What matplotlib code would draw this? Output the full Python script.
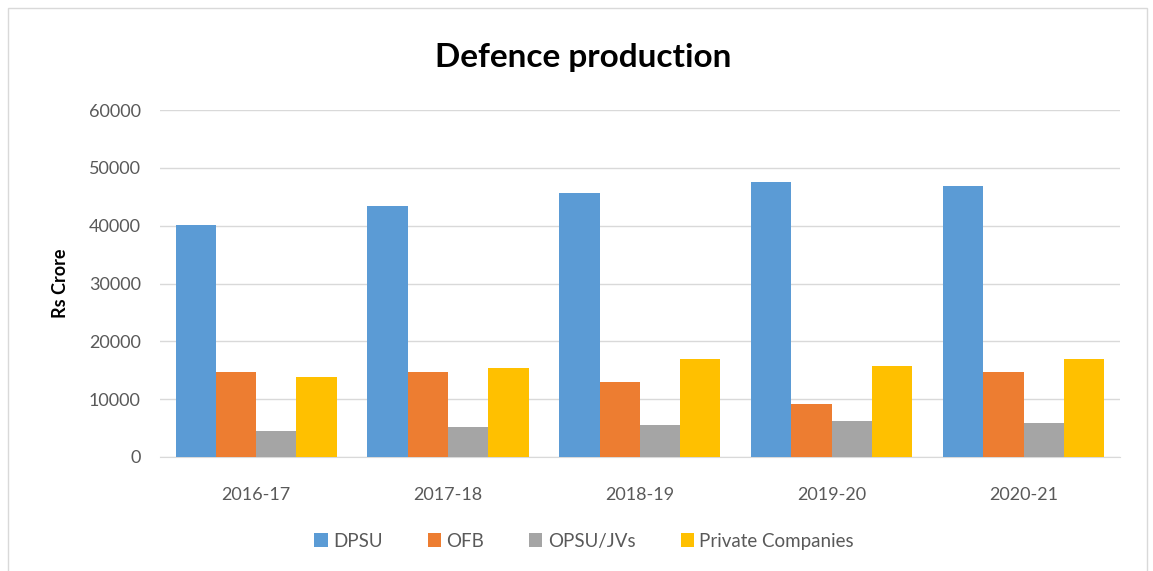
import numpy as np
import matplotlib.pyplot as plt
from matplotlib.patches import Rectangle

years = ["2016-17", "2017-18", "2018-19", "2019-20", "2020-21"]
dpsu = [40100, 43400, 45600, 47650, 46900]
ofb = [14650, 14650, 12900, 9100, 14650]
opsu_jvs = [4450, 5150, 5450, 6150, 5850]
private = [13900, 15400, 17000, 15650, 17000]

series = [
    ("DPSU", dpsu, "#5B9BD5"),
    ("OFB", ofb, "#ED7D31"),
    ("OPSU/JVs", opsu_jvs, "#A5A5A5"),
    ("Private Companies", private, "#FFC000"),
]

plt.rcParams["font.family"] = ["Lato", "DejaVu Sans"]

fig = plt.figure(figsize=(11.53, 5.71), dpi=100)
ax = fig.add_axes([0.139, 0.200, 0.832, 0.607])

x = np.arange(len(years))
width = 0.21
for i, (name, vals, color) in enumerate(series):
    ax.bar(x + (i - 1.5) * width, vals, width, color=color, label=name, zorder=3)

ax.set_xlim(-0.5, len(years) - 0.5)
ax.set_ylim(0, 60000)
ax.set_yticks(np.arange(0, 60001, 10000))
ax.set_xticks(x)
ax.set_xticklabels(years)
ax.yaxis.grid(True, color="#D9D9D9", linewidth=1, zorder=0)
ax.tick_params(axis="both", length=0, labelsize=13, labelcolor="#595959")
ax.tick_params(axis="x", pad=22)
ax.tick_params(axis="y", pad=14)
for side in ["top", "right", "left"]:
    ax.spines[side].set_visible(False)
ax.spines["bottom"].set_color("#D9D9D9")

ax.set_ylabel("Rs Crore", fontsize=13, fontweight="bold", labelpad=14)
fig.text(0.506, 0.9, "Defence production", ha="center", va="center",
         fontsize=24, fontweight="bold")

ax.legend(loc="upper center", bbox_to_anchor=(0.442, -0.17), ncol=4, frameon=False,
          fontsize=13.5, handlelength=0.7, handleheight=0.7, handletextpad=0.3,
          columnspacing=2.4, labelcolor="#595959")

# thin outer frame around the chart area
fig.patches.append(Rectangle((0.007, -0.01), 0.988, 0.996, transform=fig.transFigure,
                             fill=False, edgecolor="#D9D9D9", linewidth=1))

fig.savefig("out.png", dpi=100)
